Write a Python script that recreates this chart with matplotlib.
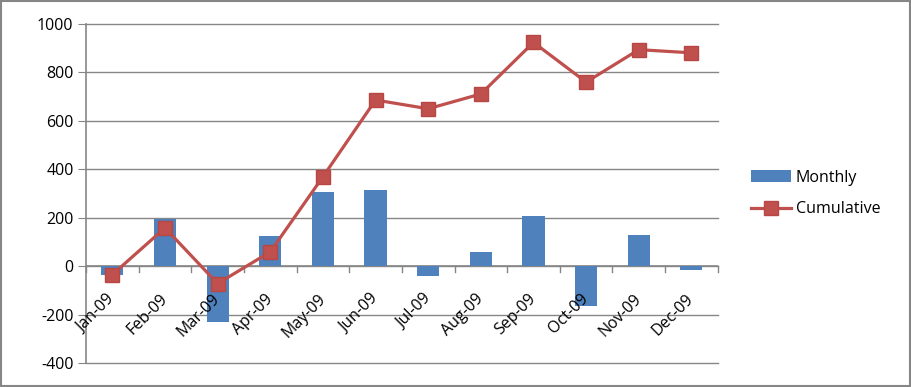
import matplotlib
matplotlib.use("Agg")
import matplotlib.pyplot as plt
import numpy as np
from matplotlib.patches import Rectangle

months = ['Jan-09', 'Feb-09', 'Mar-09', 'Apr-09', 'May-09', 'Jun-09',
          'Jul-09', 'Aug-09', 'Sep-09', 'Oct-09', 'Nov-09', 'Dec-09']
monthly = [-38, 194, -230, 124, 306, 314, -41, 58, 207, -164, 128, -16]
cumulative = [-35, 158, -72, 59, 369, 686, 650, 711, 924, 760, 894, 881]
y_ticks = [-400, -200, 0, 200, 400, 600, 800, 1000]

plt.rcParams['font.family'] = ['Open Sans', 'DejaVu Sans']
grid_col = '#868686'

fig = plt.figure(figsize=(9.12, 3.87), dpi=100)
ax = fig.add_axes([0.0943, 0.062, 0.6927, 0.876])

x = np.arange(len(months))
bars = ax.bar(x, monthly, width=0.42, color='#4F81BD', label='Monthly', zorder=2)
line, = ax.plot(x, cumulative, color='#C0504D', lw=2.3, marker='s', markersize=10.5,
                markerfacecolor='#C0504D', markeredgecolor='#B84744',
                label='Cumulative', zorder=3)

ax.set_xlim(-0.5, len(months) - 0.5)
ax.set_ylim(-400, 1000)
ax.set_yticks(y_ticks)
ax.set_yticklabels([str(v) for v in y_ticks], fontsize=11.5)
ax.tick_params(axis='y', length=6, color=grid_col, pad=3)
for v in y_ticks:
    ax.axhline(v, color=grid_col, lw=1, zorder=0, clip_on=False)

for s in ['top', 'right', 'bottom']:
    ax.spines[s].set_visible(False)
ax.spines['left'].set_color(grid_col)
ax.spines['left'].set_linewidth(1.2)

# category axis at zero with boundary ticks
ax.set_xticks([])
ax.axhline(0, color=grid_col, lw=1.2, zorder=1)
for b in np.arange(-0.5, len(months), 1.0):
    ax.plot([b, b], [0, -25], color=grid_col, lw=1, zorder=1, clip_on=False)
for i, m in enumerate(months):
    ax.annotate(m, xy=(i, 0), xytext=(-4, -18), textcoords='offset points',
                ha='right', va='top', rotation=45, rotation_mode='anchor',
                fontsize=11.5)

ax.legend([bars, line], ['Monthly', 'Cumulative'], loc='center left',
          bbox_to_anchor=(1.03, 0.50), frameon=False,
          fontsize=11.5, handlelength=2.5, labelspacing=1.0, handletextpad=0.3)

fig.patches.append(Rectangle((0.001, 0.002), 0.997, 0.995, transform=fig.transFigure,
                             fill=False, edgecolor=grid_col, lw=1.5))

fig.savefig('out.png', dpi=100)
